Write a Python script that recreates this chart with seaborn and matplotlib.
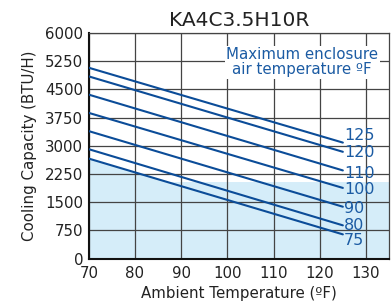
import numpy as np
import pandas as pd
import matplotlib
matplotlib.use("Agg")
import matplotlib.pyplot as plt
import seaborn as sns

# ------------------------- DATA ------------------------- #
ambient = [70, 125]
enclosure = [125, 120, 110, 100, 90, 80, 75]
cap_at_70 = [5075, 4845, 4360, 3875, 3390, 2910, 2660]
cap_at_125 = [3085, 2840, 2345, 1880, 1380, 885, 645]
label_shift = [190, -10, -75, -45, -40, 0, -155]
shade_floor = 2050

x_ticks = [70, 80, 90, 100, 110, 120, 130]
y_ticks = [0, 750, 1500, 2250, 3000, 3750, 4500, 5250, 6000]

line_color = "#0b4c98"
text_color = "#1b5ba3"
fill_color = "#d5edf9"

rows = []
for t, a, b in zip(enclosure, cap_at_70, cap_at_125):
    rows.append({"Ambient": ambient[0], "Capacity": a, "Enclosure": t})
    rows.append({"Ambient": ambient[1], "Capacity": b, "Enclosure": t})
df = pd.DataFrame(rows)

# ------------------------- PLOT ------------------------- #
sns.set_style("white")
plt.rcParams["font.family"] = ["DejaVu Sans"]

fig, ax = plt.subplots(figsize=(3.91, 3.05), dpi=100)
fig.subplots_adjust(left=0.227, right=0.995, top=0.892, bottom=0.152)

# shaded zone: under the 75 F curve, but never below the flat floor
low = df[df["Enclosure"] == 75].sort_values("Ambient")
xs = np.linspace(70, 135, 300)
ys = np.interp(xs, low["Ambient"], low["Capacity"],
               right=low["Capacity"].iloc[-1])
ax.fill_between(xs, 0, np.maximum(ys, shade_floor), color=fill_color,
                linewidth=0, zorder=0)

sns.lineplot(data=df, x="Ambient", y="Capacity", units="Enclosure",
             estimator=None, color=line_color, linewidth=1.5, ax=ax,
             zorder=3)

for t, b, s in zip(enclosure, cap_at_125, label_shift):
    ax.text(125.3, b + s, str(t), color=text_color, fontsize=11.5,
            va="center", ha="left", zorder=4)

ax.text(116.2, 5220, "Maximum enclosure\nair temperature ºF", color=text_color,
        fontsize=10.8, ha="center", va="center", linespacing=1.0, zorder=4,
        bbox=dict(boxstyle="square,pad=0.1", fc="white", ec="none"))

ax.set_xlim(70, 135)
ax.set_ylim(0, 6000)
ax.set_xticks(x_ticks)
ax.set_yticks(y_ticks)
ax.grid(True, color="#444444", linewidth=0.9)
ax.set_axisbelow(True)
ax.tick_params(length=0, labelsize=10.8, colors="#222222")
ax.tick_params(axis="x", pad=5)
ax.tick_params(axis="y", pad=4)
for side in ["left", "bottom"]:
    ax.spines[side].set_color("#111111")
    ax.spines[side].set_linewidth(1.5)
for side in ["top", "right"]:
    ax.spines[side].set_color("#444444")
    ax.spines[side].set_linewidth(0.9)

ax.set_xlabel("Ambient Temperature (ºF)", fontsize=10.8, color="#222222",
              labelpad=4)
ax.set_ylabel("Cooling Capacity (BTU/H)", fontsize=10.8, color="#222222",
              labelpad=6)
ax.set_title("KA4C3.5H10R", fontsize=14.5, color="#222222", pad=5)

fig.savefig("out.png", dpi=100)
